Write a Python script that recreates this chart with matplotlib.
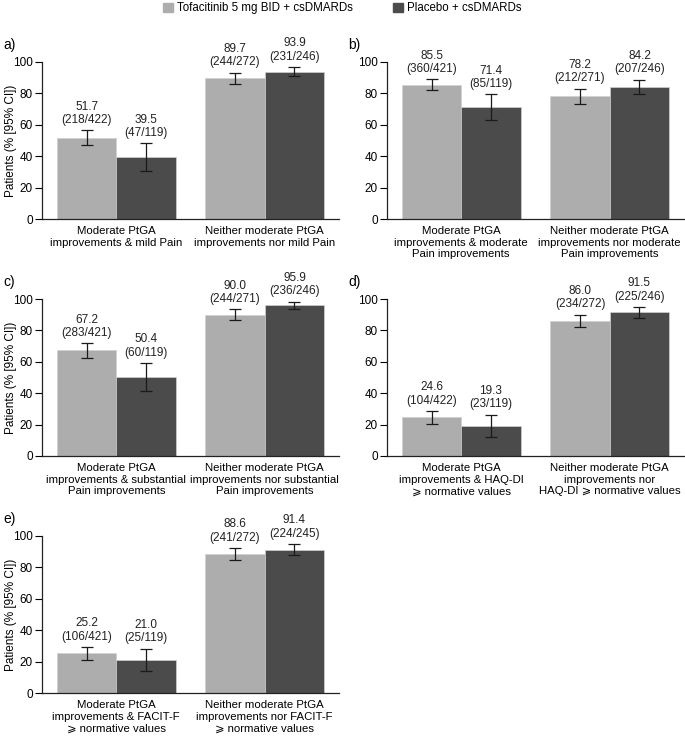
import matplotlib
matplotlib.use("Agg")
import matplotlib.pyplot as plt
from matplotlib.patches import Patch

plt.rcParams['font.family'] = ['Liberation Sans', 'DejaVu Sans']

# data, one entry per panel: [first group, second group]
panel_labels = ["a)", "b)", "c)", "d)", "e)"]
group_labels = [
    ["Moderate PtGA\nimprovements & mild Pain", "Neither moderate PtGA\nimprovements nor mild Pain"],
    ["Moderate PtGA\nimprovements & moderate\nPain improvements",
     "Neither moderate PtGA\nimprovements nor moderate\nPain improvements"],
    ["Moderate PtGA\nimprovements & substantial\nPain improvements",
     "Neither moderate PtGA\nimprovements nor substantial\nPain improvements"],
    ["Moderate PtGA\nimprovements & HAQ-DI\n⩾ normative values",
     "Neither moderate PtGA\nimprovements nor\nHAQ-DI ⩾ normative values"],
    ["Moderate PtGA\nimprovements & FACIT-F\n⩾ normative values",
     "Neither moderate PtGA\nimprovements nor FACIT-F\n⩾ normative values"],
]
tofa_pct = [[51.7, 89.7], [85.5, 78.2], [67.2, 90.0], [24.6, 86.0], [25.2, 88.6]]
tofa_n = [["218/422", "244/272"], ["360/421", "212/271"], ["283/421", "244/271"],
          ["104/422", "234/272"], ["106/421", "241/272"]]
tofa_lo = [[46.9, 86.1], [82.1, 73.3], [62.7, 86.4], [20.5, 81.9], [21.1, 84.8]]
tofa_hi = [[56.5, 93.3], [88.9, 83.1], [71.7, 93.6], [28.7, 90.1], [29.3, 92.4]]
pbo_pct = [[39.5, 93.9], [71.4, 84.2], [50.4, 95.9], [19.3, 91.5], [21.0, 91.4]]
pbo_n = [["47/119", "231/246"], ["85/119", "207/246"], ["60/119", "236/246"],
         ["23/119", "225/246"], ["25/119", "224/245"]]
pbo_lo = [[30.7, 90.9], [63.3, 79.6], [41.4, 93.4], [12.2, 88.0], [13.7, 87.9]]
pbo_hi = [[48.3, 96.9], [79.5, 88.8], [59.4, 98.4], [26.4, 95.0], [28.3, 94.9]]
series_names = ["Tofacitinib 5 mg BID + csDMARDs", "Placebo + csDMARDs"]

light = "#adadad"
dark = "#4b4b4b"
W, H = 685, 736
fig = plt.figure(figsize=(W / 100, H / 100), dpi=100)

lefts = [42, 387]
tops = [62, 299, 536]
aw, ah = 297, 157
bw = 0.4

for i in range(5):
    row, col = divmod(i, 2)
    ax = fig.add_axes([lefts[col] / W, 1 - (tops[row] + ah) / H, aw / W, ah / H])
    xs = [0, 1]
    for k, (pct, lo, hi, ns, c, off) in enumerate([
            (tofa_pct[i], tofa_lo[i], tofa_hi[i], tofa_n[i], light, -bw / 2),
            (pbo_pct[i], pbo_lo[i], pbo_hi[i], pbo_n[i], dark, bw / 2)]):
        pos = [x + off for x in xs]
        ax.bar(pos, pct, width=bw, color=c, edgecolor="#d0d0d0", linewidth=0.5, zorder=2)
        err = [[p - l for p, l in zip(pct, lo)], [h - p for p, h in zip(pct, hi)]]
        ax.errorbar(pos, pct, yerr=err, fmt="none", ecolor="#1a1a1a", elinewidth=0.9,
                    capsize=4, capthick=0.9, zorder=3)
        for x, p, h, n in zip(pos, pct, hi, ns):
            ax.annotate(f"{p:.1f}\n({n})", (x, h), xytext=(0, 3), textcoords="offset points",
                        ha="center", va="bottom", fontsize=8.5, linespacing=1.15, color="#222222")
    ax.set_xlim(-0.5, 1.5)
    ax.set_ylim(0, 100)
    ax.set_yticks(range(0, 101, 20))
    ax.set_xticks(xs)
    ax.set_xticklabels(group_labels[i], fontsize=8.2, linespacing=1.2)
    ax.tick_params(axis="x", length=0, pad=5)
    ax.tick_params(axis="y", labelsize=8.5, length=5, width=0.8, pad=1.5)
    for s in ["top", "right"]:
        ax.spines[s].set_visible(False)
    for s in ["left", "bottom"]:
        ax.spines[s].set_linewidth(0.9)
        ax.spines[s].set_color("#222222")
    if col == 0:
        ax.set_ylabel("Patients (% [95% CI])", fontsize=8.5)
        ax.yaxis.set_label_coords(-0.085, 0.5)
    fig.text((lefts[col] - 39) / W, 1 - (tops[row] - 17) / H, panel_labels[i],
             fontsize=10, ha="left", va="center")

handles = [Patch(color=light), Patch(color=dark)]
fig.legend(handles, series_names, loc="upper center", bbox_to_anchor=(0.5, 1.0), ncol=2,
           frameon=False, fontsize=8.3, handlelength=0.8, handleheight=0.8, handletextpad=0.4,
           columnspacing=3.5, borderaxespad=0.1, borderpad=0.1)

fig.savefig("out.png", dpi=100)
